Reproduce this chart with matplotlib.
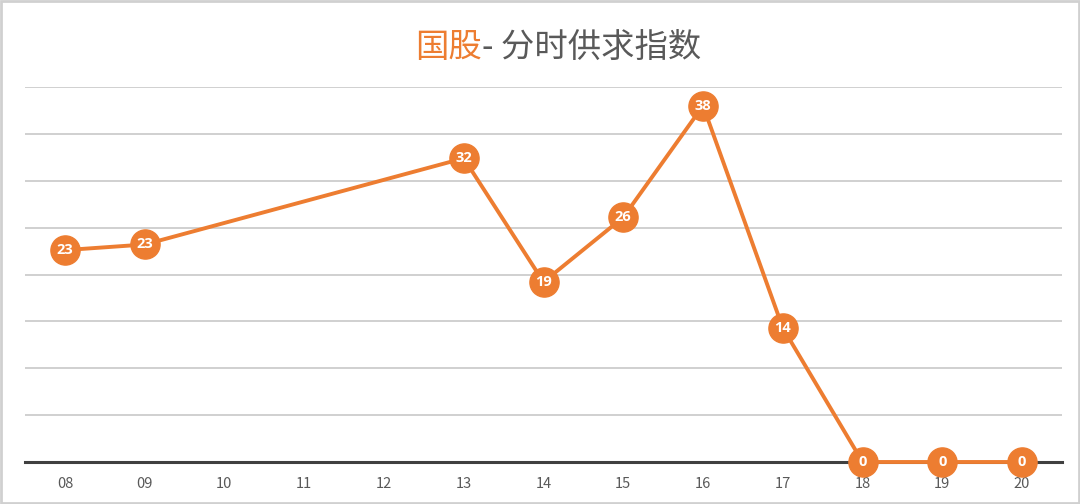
import matplotlib
matplotlib.use("Agg")
import matplotlib.pyplot as plt
from matplotlib.patches import Rectangle

plt.rcParams['font.family'] = ['Noto Sans CJK SC', 'DejaVu Sans']

# data
hours = ["08", "09", "10", "11", "12", "13", "14", "15", "16", "17", "18", "19", "20"]
point_hours = ["08", "09", "13", "14", "15", "16", "17", "18", "19", "20"]
values = [22.6, 23.2, 32.4, 19.2, 26.1, 38.0, 14.3, 0, 0, 0]
labels = ["23", "23", "32", "19", "26", "38", "14", "0", "0", "0"]

orange = "#ED7D31"
gray_text = "#595959"

fig = plt.figure(figsize=(10.8, 5.04), dpi=100)
ax = fig.add_axes([25 / 1080, 42 / 504, 1037 / 1080, 375 / 504])

xs = [hours.index(h) for h in point_hours]

# grid
for y in range(5, 45, 5):
    ax.axhline(y, color="#C8C8C8", lw=1.2, zorder=0)
ax.axhline(0, color="#404040", lw=2.2, zorder=1, clip_on=False)

ax.plot(xs, values, color=orange, lw=2.8, zorder=3, clip_on=False,
        marker="o", markersize=21, markerfacecolor=orange, markeredgecolor=orange)
for x, v, t in zip(xs, values, labels):
    ax.text(x, v, t, color="white", fontsize=10.5, fontweight="bold",
            ha="center", va="center", zorder=4, family=["Open Sans", "DejaVu Sans"])

ax.set_xlim(-0.5, len(hours) - 0.5)
ax.set_ylim(0, 40)
ax.set_xticks(range(len(hours)))
ax.set_xticklabels(hours, color=gray_text, fontsize=10.5)
ax.tick_params(axis="x", length=0, pad=11)
ax.set_yticks([])
for s in ax.spines.values():
    s.set_visible(False)
ax.patch.set_visible(False)

# title in two colours
fig.text(482 / 1080, 1 - 47 / 504, "国股", color=orange, fontsize=24,
         ha="right", va="center")
fig.text(482 / 1080, 1 - 47 / 504, "- 分时供求指数", color=gray_text, fontsize=24,
         ha="left", va="center")

# light frame around the picture
fig.patches.append(Rectangle((0.001, 0.002), 0.998, 0.996, transform=fig.transFigure,
                             fill=False, edgecolor="#D0D0D0", lw=2))

fig.savefig("out.png", dpi=100)
